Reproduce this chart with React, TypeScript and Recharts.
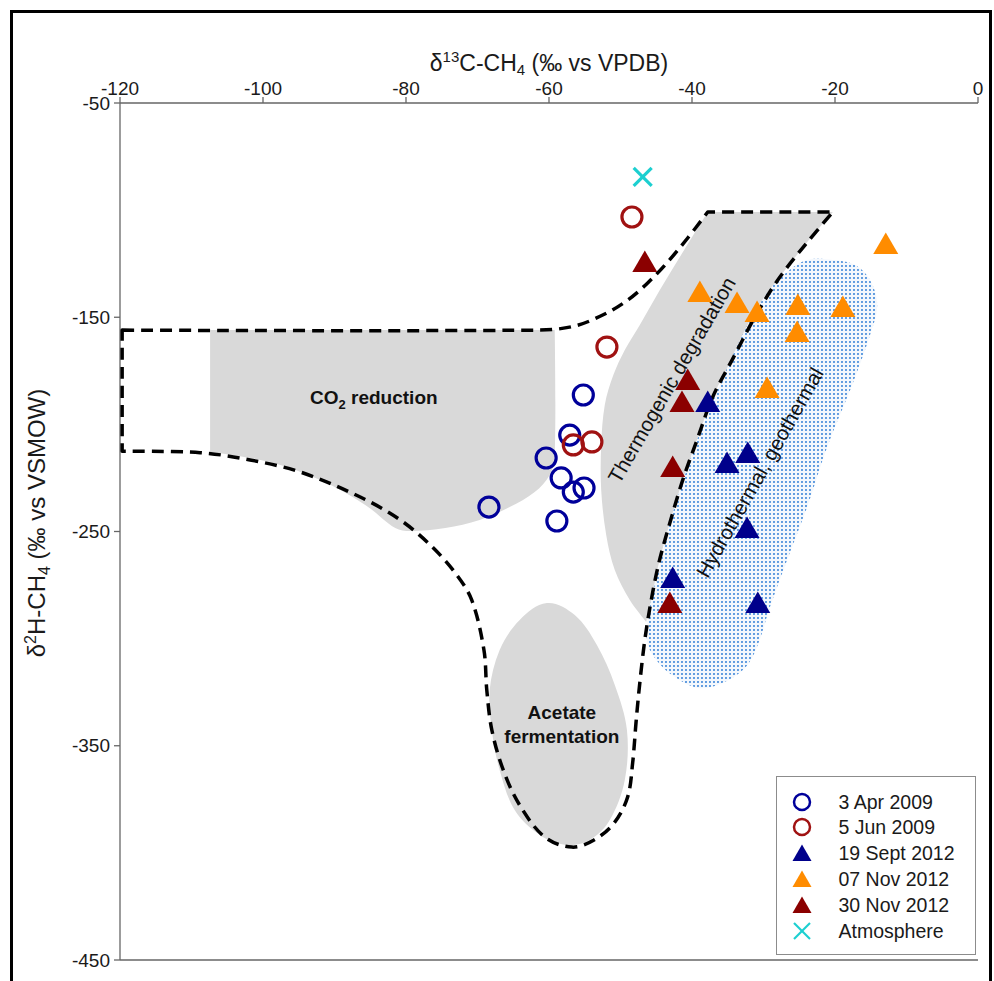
import React from 'react';
import { ScatterChart, Scatter, XAxis, YAxis, ReferenceLine, Legend } from 'recharts';

type P = { x: number; y: number; k?: number };

// ---------- axes ----------
const X_DOMAIN: [number, number] = [-120, 0];
const Y_DOMAIN: [number, number] = [-450, -50];
const X_TICKS = [-120, -100, -80, -60, -40, -20, 0];
const Y_TICKS = [-450, -350, -250, -150, -50];

// ---------- series (d13C, d2H) ----------
const apr2009: P[] = [
  { x: -55.2, y: -186.3 }, { x: -57.1, y: -205.0 }, { x: -60.4, y: -215.7 }, { x: -58.3, y: -225.0 },
  { x: -56.6, y: -231.6 }, { x: -55.1, y: -229.7 }, { x: -68.4, y: -238.6 }, { x: -58.9, y: -245.1 },
];
const jun2009: P[] = [
  { x: -48.4, y: -103.2 }, { x: -51.9, y: -163.9 }, { x: -56.6, y: -209.6 }, { x: -54.0, y: -208.2 },
];
const sep2012: P[] = [
  { x: -37.8, y: -189.6 }, { x: -32.2, y: -213.4 }, { x: -35.1, y: -218.0 }, { x: -32.3, y: -248.4 },
  { x: -42.7, y: -271.7 }, { x: -30.8, y: -283.4 },
];
const nov07_2012: P[] = [
  { x: -12.9, y: -115.8 }, { x: -38.9, y: -138.2 }, { x: -33.7, y: -143.3 }, { x: -30.9, y: -147.5 },
  { x: -25.2, y: -144.3 }, { x: -18.9, y: -145.2 }, { x: -25.3, y: -156.9 }, { x: -29.5, y: -183.0 },
];
const nov30_2012: P[] = [
  { x: -46.6, y: -124.2 }, { x: -40.6, y: -179.3 }, { x: -41.4, y: -189.6 }, { x: -42.7, y: -219.9 },
  { x: -43.1, y: -283.4 },
];
const atmosphere: P[] = [{ x: -46.9, y: -84.5 }];

const SERIES_NAMES = ['3 Apr 2009', '5 Jun 2009', '19 Sept 2012', '07 Nov 2012', '30 Nov 2012', 'Atmosphere'];
const SERIES_COLORS = ['#00009a', '#a01212', '#00008b', '#ff8c00', '#8b0000', '#1ccfd0'];

// ---------- genetic fields (boundary vertices in data units, k = sharp corner) ----------
const dashedBoundary: P[] = [
  { x: -119.7, y: -156.0, k: 1 }, { x: -61.3, y: -156.0 }, { x: -56.4, y: -154.1 }, { x: -52.2, y: -148.5 },
  { x: -49.0, y: -142.0 }, { x: -46.2, y: -134.0 }, { x: -43.4, y: -124.2 }, { x: -40.6, y: -113.0 },
  { x: -37.8, y: -100.9, k: 1 }, { x: -20.3, y: -100.9, k: 1 }, { x: -24.2, y: -116.3 }, { x: -28.0, y: -132.6 },
  { x: -31.2, y: -149.9 }, { x: -34.4, y: -170.0 }, { x: -37.1, y: -187.2 }, { x: -39.3, y: -207.3 },
  { x: -41.3, y: -226.0 }, { x: -43.1, y: -246.0 }, { x: -44.6, y: -264.2 }, { x: -45.7, y: -282.0 },
  { x: -46.6, y: -300.6 }, { x: -47.3, y: -320.7 }, { x: -47.8, y: -338.0 }, { x: -48.3, y: -358.0 },
  { x: -49.0, y: -373.9 }, { x: -50.9, y: -386.1 }, { x: -53.7, y: -394.0 }, { x: -56.8, y: -397.3 },
  { x: -60.6, y: -392.6 }, { x: -64.1, y: -377.7 }, { x: -66.4, y: -361.3 }, { x: -68.0, y: -342.6 },
  { x: -68.7, y: -324.0 }, { x: -69.1, y: -305.3 }, { x: -70.8, y: -282.0 }, { x: -73.1, y: -269.4 },
  { x: -76.6, y: -256.3 }, { x: -80.8, y: -244.6 }, { x: -86.4, y: -233.9 }, { x: -94.8, y: -222.2 },
  { x: -101.8, y: -216.6 }, { x: -108.8, y: -213.2 }, { x: -119.7, y: -212.5, k: 1 },
];
const thermogenicField: P[] = [
  { x: -37.8, y: -100.9, k: 1 }, { x: -20.3, y: -100.9, k: 1 }, { x: -24.2, y: -116.3 }, { x: -28.0, y: -132.6 },
  { x: -31.2, y: -149.9 }, { x: -34.4, y: -170.0 }, { x: -37.1, y: -187.2 }, { x: -39.3, y: -207.3 },
  { x: -41.3, y: -226.0 }, { x: -43.1, y: -246.0 }, { x: -44.6, y: -264.2 }, { x: -45.7, y: -282.0 },
  { x: -46.4, y: -292.2, k: 1 }, { x: -48.7, y: -282.0 }, { x: -50.8, y: -268.0 }, { x: -52.0, y: -251.6 },
  { x: -52.7, y: -230.6 }, { x: -52.7, y: -209.6 }, { x: -52.2, y: -191.0 }, { x: -51.0, y: -177.0 },
  { x: -49.4, y: -165.3 }, { x: -47.3, y: -153.6 }, { x: -44.5, y: -137.3 }, { x: -41.1, y: -118.6 },
];
const co2Field: P[] = [
  { x: -107.4, y: -156.0, k: 1 }, { x: -59.2, y: -156.0, k: 1 }, { x: -59.2, y: -214.3 }, { x: -59.9, y: -223.6 },
  { x: -62.0, y: -231.6 }, { x: -65.5, y: -238.6 }, { x: -69.7, y: -244.6 }, { x: -74.5, y: -248.4 },
  { x: -79.4, y: -249.8 }, { x: -81.5, y: -248.4 }, { x: -85.7, y: -237.6 }, { x: -92.0, y: -226.0 },
  { x: -99.0, y: -217.6 }, { x: -107.4, y: -212.9, k: 1 },
];
const acetateField: P[] = [
  { x: -60.3, y: -283.4 }, { x: -56.4, y: -289.0 }, { x: -53.3, y: -303.0 }, { x: -50.8, y: -321.6 },
  { x: -49.1, y: -342.6 }, { x: -49.4, y: -366.0 }, { x: -51.5, y: -384.7 }, { x: -54.3, y: -394.0 },
  { x: -57.5, y: -396.3 }, { x: -61.3, y: -391.6 }, { x: -64.8, y: -380.0 }, { x: -66.9, y: -361.3 },
  { x: -68.0, y: -342.6 }, { x: -68.3, y: -324.0 }, { x: -66.9, y: -305.3 }, { x: -64.1, y: -291.3 },
];
const hydrothermalField: P[] = [
  { x: -23.9, y: -123.3 }, { x: -20.3, y: -123.3 }, { x: -17.2, y: -125.6 }, { x: -15.1, y: -132.6 },
  { x: -14.1, y: -144.3 }, { x: -15.1, y: -158.3 }, { x: -17.6, y: -181.6 }, { x: -21.0, y: -209.6 },
  { x: -23.9, y: -238.6 }, { x: -26.7, y: -263.3 }, { x: -29.1, y: -285.2 }, { x: -30.8, y: -303.0 },
  { x: -32.6, y: -313.7 }, { x: -36.1, y: -321.2 }, { x: -39.2, y: -323.0 }, { x: -42.8, y: -317.0 },
  { x: -45.2, y: -309.0 }, { x: -46.3, y: -300.6 }, { x: -45.9, y: -285.2 }, { x: -44.5, y: -265.6 },
  { x: -43.1, y: -246.0 }, { x: -41.3, y: -226.9 }, { x: -39.3, y: -207.3 }, { x: -36.1, y: -181.6 },
  { x: -32.6, y: -156.0 }, { x: -29.4, y: -138.2 }, { x: -26.7, y: -128.9 },
];

// label anchors (data units)
const co2Label: P[] = [{ x: -84.5, y: -187.2 }];
const thermoLabel: P[] = [{ x: -42.8, y: -179.3 }];
const hydroLabel: P[] = [{ x: -30.5, y: -222.5 }];
const acetateLabel: P[] = [{ x: -58.2, y: -340.0 }];

const FONT = '"Liberation Sans", Arial, Helvetica, sans-serif';
const AXIS_GRAY = '#666666';

// ---------- helpers ----------
type XY = { x: number; y: number };
function smoothPath(pts: XY[], corners: boolean[], closed: boolean): string {
  const n = pts.length;
  const get = (i: number) => (closed ? pts[((i % n) + n) % n] : pts[Math.max(0, Math.min(n - 1, i))]);
  const dir = (i: number): XY => {
    const ii = ((i % n) + n) % n;
    if (corners[ii] || (!closed && (ii === 0 || ii === n - 1))) return { x: 0, y: 0 };
    const a = get(ii - 1);
    const b = get(ii + 1);
    const dx = b.x - a.x;
    const dy = b.y - a.y;
    const len = Math.hypot(dx, dy) || 1;
    return { x: dx / len, y: dy / len };
  };
  let d = `M${pts[0].x.toFixed(2)},${pts[0].y.toFixed(2)}`;
  const segs = closed ? n : n - 1;
  for (let i = 0; i < segs; i++) {
    const p0 = get(i);
    const p1 = get(i + 1);
    const L = Math.hypot(p1.x - p0.x, p1.y - p0.y) / 3;
    const t0 = dir(i);
    const t1 = dir(i + 1);
    d += ` C${(p0.x + t0.x * L).toFixed(2)},${(p0.y + t0.y * L).toFixed(2)} ${(p1.x - t1.x * L).toFixed(2)},${(p1.y - t1.y * L).toFixed(2)} ${p1.x.toFixed(2)},${p1.y.toFixed(2)}`;
  }
  if (closed) d += ' Z';
  return d;
}

function RegionPath(props: any) {
  const { points, vertices, variant } = props;
  if (!points || points.length < 2) return null;
  const px: XY[] = points.map((p: any) => ({ x: p.x, y: p.y }));
  const corners: boolean[] = (vertices as P[]).map((v) => !!v.k);
  const d = smoothPath(px, corners, true);
  if (variant === 'gray') return <path d={d} fill="#d9d9d9" stroke="none" />;
  if (variant === 'hydro')
    return (
      <g>
        <defs>
          <pattern id="hydroDots" width={4} height={4} patternUnits="userSpaceOnUse">
            <rect width={4} height={4} fill="#f4f8fd" />
            <circle cx={2} cy={2} r={1.05} fill="#3d86d9" />
          </pattern>
        </defs>
        <path d={d} fill="url(#hydroDots)" stroke="none" />
      </g>
    );
  return <path d={d} fill="none" stroke="#000" strokeWidth={3.5} strokeDasharray="12 7" strokeLinejoin="round" />;
}

const Empty = () => <g />;

const openCircle = (color: string) => (p: any) => (
  <circle cx={p.cx} cy={p.cy} r={10} fill="none" stroke={color} strokeWidth={3.2} />
);
const triangle = (color: string) => (p: any) => (
  <polygon
    points={`${p.cx - 12.5},${p.cy + 10} ${p.cx + 12.5},${p.cy + 10} ${p.cx},${p.cy - 11.5}`}
    fill={color}
  />
);
const cross = (color: string) => (p: any) => (
  <g stroke={color} strokeWidth={3.2} strokeLinecap="butt">
    <line x1={p.cx - 9} y1={p.cy - 9} x2={p.cx + 9} y2={p.cy + 9} />
    <line x1={p.cx - 9} y1={p.cy + 9} x2={p.cx + 9} y2={p.cy - 9} />
  </g>
);

const co2Shape = (p: any) => (
  <text x={p.cx} y={p.cy} dy={7} textAnchor="middle" fontFamily={FONT} fontSize={19} fontWeight="bold" fill="#111">
    CO
    <tspan fontSize={13} dy={5}>2</tspan>
    <tspan dy={-5}> reduction</tspan>
  </text>
);
const thermoShape = (p: any) => (
  <text
    x={p.cx}
    y={p.cy}
    dy={7}
    textAnchor="middle"
    fontFamily={FONT}
    fontSize={20.5}
    fill="#111"
    transform={`rotate(-60 ${p.cx} ${p.cy})`}
  >
    Thermogenic degradation
  </text>
);
const hydroShape = (p: any) => (
  <text
    x={p.cx}
    y={p.cy}
    dy={7}
    textAnchor="middle"
    fontFamily={FONT}
    fontSize={20.5}
    fill="#111"
    transform={`rotate(-60.5 ${p.cx} ${p.cy})`}
  >
    Hydrothermal, geothermal
  </text>
);
const acetateShape = (p: any) => (
  <text textAnchor="middle" fontFamily={FONT} fontSize={19} fontWeight="bold" fill="#111">
    <tspan x={p.cx} y={p.cy - 5}>Acetate</tspan>
    <tspan x={p.cx} y={p.cy + 18.5}>fermentation</tspan>
  </text>
);

const XTitle = () => (
  <text x={549} y={71} textAnchor="middle" fontFamily={FONT} fontSize={23} fill="#1a1a1a">
    δ<tspan fontSize={15} dy={-9}>13</tspan>
    <tspan dy={9}>C-CH</tspan>
    <tspan fontSize={15} dy={4}>4</tspan>
    <tspan dy={-4}> (‰ vs VPDB)</tspan>
  </text>
);
const YTitle = () => (
  <text
    x={37}
    y={523}
    dy={8}
    textAnchor="middle"
    fontFamily={FONT}
    fontSize={24}
    fill="#1a1a1a"
    transform="rotate(-90 37 523)"
  >
    δ<tspan fontSize={16} dy={-9}>2</tspan>
    <tspan dy={9}>H-CH</tspan>
    <tspan fontSize={16} dy={5}>4</tspan>
    <tspan dy={-5}> (‰ vs VSMOW)</tspan>
  </text>
);

const LEGEND_KINDS = ['circle', 'circle', 'tri', 'tri', 'tri', 'cross'];

function LegendIcon({ kind, color }: { kind: string; color: string }) {
  if (kind === 'circle') return <circle cx={26} cy={12} r={8} fill="none" stroke={color} strokeWidth={2.5} />;
  if (kind === 'tri') return <polygon points="16.5,20 35.5,20 26,3.5" fill={color} />;
  return (
    <g stroke={color} strokeWidth={2.2}>
      <line x1={18} y1={4} x2={34} y2={20} />
      <line x1={18} y1={20} x2={34} y2={4} />
    </g>
  );
}

function LegendBox() {
  return (
    <div
      style={{
        width: 200,
        height: 179,
        border: '1.5px solid #8c8c8c',
        background: '#fff',
        boxSizing: 'border-box',
        position: 'relative',
        fontFamily: FONT,
        fontSize: 19.5,
        color: '#1a1a1a',
      }}
    >
      {SERIES_NAMES.map((name, i) => (
        <div
          key={name}
          style={{
            position: 'absolute',
            left: -1.5,
            top: 26 + i * 25.8 - 12 - 1.5,
            height: 24,
            display: 'flex',
            alignItems: 'center',
            whiteSpace: 'nowrap',
          }}
        >
          <svg width={52} height={24} style={{ display: 'block' }}>
            <LegendIcon kind={LEGEND_KINDS[i]} color={SERIES_COLORS[i]} />
          </svg>
          <span style={{ marginLeft: 11, lineHeight: '24px' }}>{name}</span>
        </div>
      ))}
    </div>
  );
}

export default function App() {
  return (
    <div style={{ position: 'absolute', left: 0, top: 0, width: 994, height: 981, background: '#fff', overflow: 'hidden' }}>
      <div
        style={{
          position: 'absolute',
          left: 10,
          top: 10,
          width: 982,
          height: 1000,
          border: '3px solid #000',
          boxSizing: 'border-box',
        }}
      />
      <div style={{ position: 'absolute', left: 0, top: 0 }}>
        <ScatterChart
          width={994}
          height={981}
          margin={{ top: 73, right: 16, bottom: 21, left: 60 }}
          style={{ fontFamily: FONT }}
        >
          <XAxis
            type="number"
            dataKey="x"
            orientation="top"
            domain={X_DOMAIN}
            ticks={X_TICKS}
            height={30}
            axisLine={{ stroke: AXIS_GRAY, strokeWidth: 1.3 }}
            tickLine={{ stroke: AXIS_GRAY, strokeWidth: 1.3 }}
            tickSize={6}
            tickMargin={2}
            tick={{ fontSize: 19, fill: '#1a1a1a', fontFamily: FONT }}
            label={<XTitle />}
          />
          <YAxis
            type="number"
            dataKey="y"
            domain={Y_DOMAIN}
            ticks={Y_TICKS}
            width={60}
            axisLine={{ stroke: AXIS_GRAY, strokeWidth: 1.3 }}
            tickLine={{ stroke: AXIS_GRAY, strokeWidth: 1.3 }}
            tickSize={6}
            tickMargin={4}
            tick={{ fontSize: 19, fill: '#1a1a1a', fontFamily: FONT }}
            label={<YTitle />}
          />
          <ReferenceLine y={-450} stroke={AXIS_GRAY} strokeWidth={1.5} />

          <Scatter data={co2Field} shape={Empty} legendType="none" isAnimationActive={false}
            line={<RegionPath vertices={co2Field} variant="gray" />} />
          <Scatter data={thermogenicField} shape={Empty} legendType="none" isAnimationActive={false}
            line={<RegionPath vertices={thermogenicField} variant="gray" />} />
          <Scatter data={acetateField} shape={Empty} legendType="none" isAnimationActive={false}
            line={<RegionPath vertices={acetateField} variant="gray" />} />
          <Scatter data={hydrothermalField} shape={Empty} legendType="none" isAnimationActive={false}
            line={<RegionPath vertices={hydrothermalField} variant="hydro" />} />
          <Scatter data={dashedBoundary} shape={Empty} legendType="none" isAnimationActive={false}
            line={<RegionPath vertices={dashedBoundary} variant="dashed" />} />

          <Scatter data={co2Label} shape={co2Shape} legendType="none" isAnimationActive={false} />
          <Scatter data={thermoLabel} shape={thermoShape} legendType="none" isAnimationActive={false} />
          <Scatter data={hydroLabel} shape={hydroShape} legendType="none" isAnimationActive={false} />
          <Scatter data={acetateLabel} shape={acetateShape} legendType="none" isAnimationActive={false} />

          <Scatter name={SERIES_NAMES[0]} data={apr2009} fill={SERIES_COLORS[0]} shape={openCircle(SERIES_COLORS[0])} isAnimationActive={false} />
          <Scatter name={SERIES_NAMES[1]} data={jun2009} fill={SERIES_COLORS[1]} shape={openCircle(SERIES_COLORS[1])} isAnimationActive={false} />
          <Scatter name={SERIES_NAMES[2]} data={sep2012} fill={SERIES_COLORS[2]} shape={triangle(SERIES_COLORS[2])} isAnimationActive={false} />
          <Scatter name={SERIES_NAMES[3]} data={nov07_2012} fill={SERIES_COLORS[3]} shape={triangle(SERIES_COLORS[3])} isAnimationActive={false} />
          <Scatter name={SERIES_NAMES[4]} data={nov30_2012} fill={SERIES_COLORS[4]} shape={triangle(SERIES_COLORS[4])} isAnimationActive={false} />
          <Scatter name={SERIES_NAMES[5]} data={atmosphere} fill={SERIES_COLORS[5]} shape={cross(SERIES_COLORS[5])} isAnimationActive={false} />

          <Legend
            layout="vertical"
            align="center"
            verticalAlign="middle"
            wrapperStyle={{ left: 776, top: 776, width: 200, height: 179 }}
            content={() => <LegendBox />}
          />
        </ScatterChart>
      </div>
    </div>
  );
}
